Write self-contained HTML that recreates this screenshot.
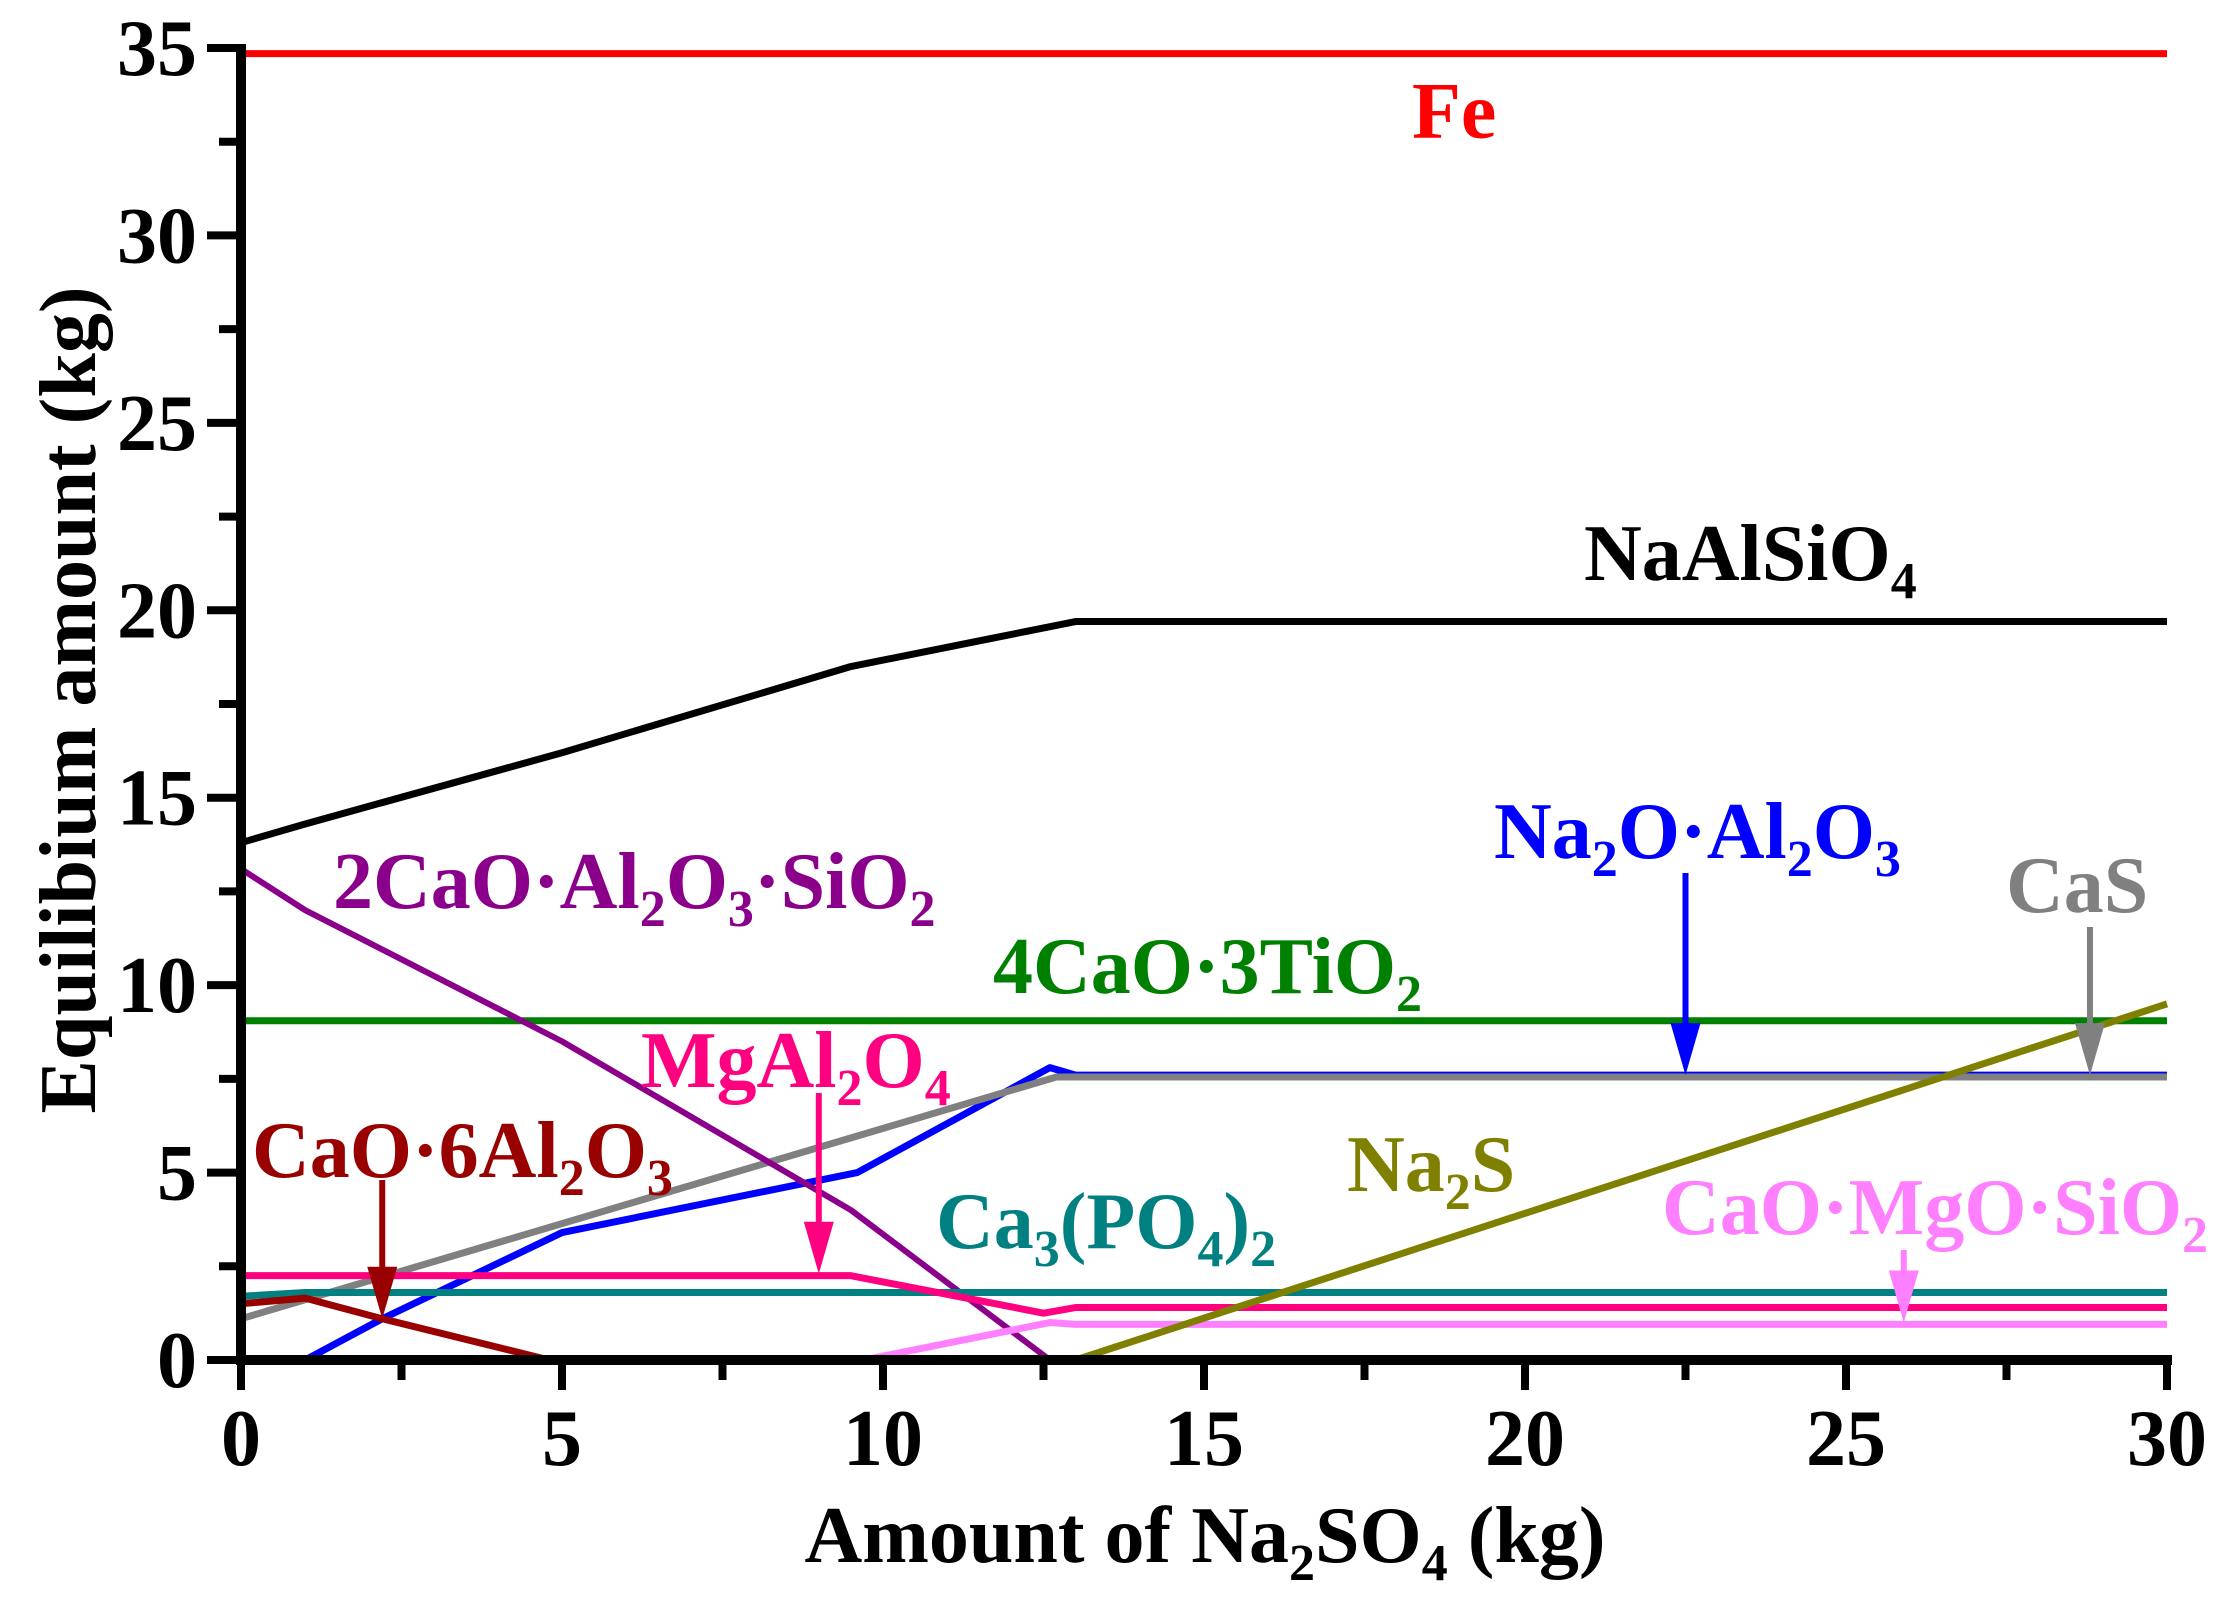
<!DOCTYPE html>
<html><head><meta charset="utf-8"><style>
html,body{margin:0;padding:0;background:#fff;}
svg{display:block;}
text{font-family:"Liberation Serif",serif;font-weight:bold;}
</style></head><body>
<svg id="chart" width="2223" height="1617" viewBox="0 0 2223 1617" xmlns="http://www.w3.org/2000/svg">
<g id="series"></g>
<g id="axes"></g>
<g id="labels"></g>
</svg>
<script>
const xTicks = [0,5,10,15,20,25,30];
const yTicks = [0,5,10,15,20,25,30,35];
const feX = [0,30];            const feY = [34.85,34.85];
const naAlSiO4X = [0,1,5,9.5,13,30]; const naAlSiO4Y = [13.8,14.3,16.2,18.5,19.7,19.7];
const c2asX = [0,1,5,9.5,12.6]; const c2asY = [13.1,12.0,8.5,4.0,0];
const c4t3X = [0,30];          const c4t3Y = [9.05,9.05];
const casX = [0,12.7,30];      const casY = [1.1,7.55,7.55];
const naAlX = [1,2.2,5,9.6,12.6,13,30]; const naAlY = [0,1.1,3.4,5.0,7.8,7.6,7.6];
const mgAlX = [0,9.5,12.5,13,30]; const mgAlY = [2.25,2.25,1.25,1.4,1.4];
const ca3pX = [0,1,30];        const ca3pY = [1.7,1.8,1.8];
const ca6aX = [0,1,2.2,4.8];   const ca6aY = [1.5,1.65,1.1,0];
const cmsX = [9.7,12.6,13,30]; const cmsY = [0,1.0,0.95,0.95];
const na2sX = [13,30];         const na2sY = [0,9.5];

const X0=241, X1=2167, Y0=1360, Y1=48;
const sx = v => X0 + (X1-X0)*v/30;
const sy = v => Y0 - (Y0-Y1)*v/35;
const NS="http://www.w3.org/2000/svg";
const gS=document.getElementById('series'), gA=document.getElementById('axes'), gL=document.getElementById('labels');
function mk(tag, attrs, parent){const e=document.createElementNS(NS,tag);for(const k in attrs)e.setAttribute(k,attrs[k]);parent.appendChild(e);return e;}
function line(xs,ys,color,w,name){
  const p=mk('polyline',{points:xs.map((x,i)=>sx(x)+','+sy(ys[i])).join(' '),fill:'none',stroke:color,'stroke-width':w,'stroke-linejoin':'round'},gS);
  
  
}
line(feX,feY,'#ff0000',7,'fe-line');
line(c4t3X,c4t3Y,'#008000',7,'4cao-3tio2-line');
line(naAlX,naAlY,'#0000ff',7,'na2o-al2o3-line');
line(casX,casY,'#808080',7,'cas-line');
line(naAlSiO4X,naAlSiO4Y,'#000000',7,'naalsio4-line');
line(c2asX,c2asY,'#8b008b',6,'2cao-al2o3-sio2-line');
line(cmsX,cmsY,'#ff80ff',7,'cao-mgo-sio2-line');
line(ca3pX,ca3pY,'#008080',7,'ca3po42-line');
line(mgAlX,mgAlY,'#ff0080',7,'mgal2o4-line');
line(ca6aX,ca6aY,'#990000',7,'cao-6al2o3-line');
line(na2sX,na2sY,'#808000',7,'na2s-line');

// axes
let a=mk('line',{x1:X0,y1:Y1-4,x2:X0,y2:Y0+5,stroke:'#000','stroke-width':10},gA);


a=mk('line',{x1:X0-5,y1:Y0,x2:X1+5,y2:Y0,stroke:'#000','stroke-width':10},gA);


yTicks.forEach(v=>{
  const t=mk('line',{x1:X0-34,y1:sy(v),x2:X0,y2:sy(v),stroke:'#000','stroke-width':8},gA);
  
  
  if(v<35){const m=mk('line',{x1:X0-22,y1:sy(v+2.5),x2:X0,y2:sy(v+2.5),stroke:'#000','stroke-width':8},gA);
  
  }
  const l=mk('text',{x:X0-44,y:sy(v)+27,'text-anchor':'end','font-size':80},gA);l.textContent=v;
  
  
});
xTicks.forEach(v=>{
  const t=mk('line',{x1:sx(v),y1:Y0,x2:sx(v),y2:Y0+30,stroke:'#000','stroke-width':8},gA);
  
  
  if(v<30){const m=mk('line',{x1:sx(v+2.5),y1:Y0,x2:sx(v+2.5),y2:Y0+20,stroke:'#000','stroke-width':8},gA);
  
  }
  const l=mk('text',{x:sx(v),y:1465,'text-anchor':'middle','font-size':80},gA);l.textContent=v;
  
  
});
// arrows
function arrow(xv,yTop,yv,color,name){
  const x=sx(xv), yb=sy(yv);
  const g=mk('g',{},gL);
  
  
  mk('line',{x1:x,y1:yTop,x2:x,y2:yb-45,stroke:color,'stroke-width':6},g);
  mk('polygon',{points:(x-15)+','+(yb-52)+' '+(x+15)+','+(yb-52)+' '+x+','+yb,fill:color},g);
}
arrow(22.5,873,7.6,'#0000ff','na2o-al2o3-arrow');
arrow(28.8,927,7.6,'#808080','cas-arrow');
arrow(2.2,1180,1.1,'#990000','cao-6al2o3-arrow');
arrow(9.0,1093,2.3,'#ff0080','mgal2o4-arrow');
arrow(25.9,1250,1.0,'#ff80ff','cao-mgo-sio2-arrow');
</script>
<svg style="position:absolute;left:0;top:0" width="2223" height="1617" xmlns="http://www.w3.org/2000/svg">
<style>text{font-family:"Liberation Serif",serif;font-weight:bold;font-size:80px;} tspan.s{font-size:52px;}</style>
<text x="1412" y="138" fill="#ff0000">Fe</text>
<text x="1584" y="580" fill="#000">NaAlSiO<tspan class="s" dy="18">4</tspan></text>
<text x="1494" y="858" fill="#0000ff">Na<tspan class="s" dy="18">2</tspan><tspan dy="-18">O·Al</tspan><tspan class="s" dy="18">2</tspan><tspan dy="-18">O</tspan><tspan class="s" dy="18">3</tspan></text>
<text x="2006" y="912" fill="#808080">CaS</text>
<text x="333" y="908" fill="#8b008b">2CaO·Al<tspan class="s" dy="18">2</tspan><tspan dy="-18">O</tspan><tspan class="s" dy="18">3</tspan><tspan dy="-18">·SiO</tspan><tspan class="s" dy="18">2</tspan></text>
<text x="993" y="993" fill="#008000">4CaO·3TiO<tspan class="s" dy="18">2</tspan></text>
<text x="641" y="1087" fill="#ff0080">MgAl<tspan class="s" dy="18">2</tspan><tspan dy="-18">O</tspan><tspan class="s" dy="18">4</tspan></text>
<text x="252" y="1177" fill="#990000">CaO·6Al<tspan class="s" dy="18">2</tspan><tspan dy="-18">O</tspan><tspan class="s" dy="18">3</tspan></text>
<text x="1347" y="1191" fill="#808000">Na<tspan class="s" dy="18">2</tspan><tspan dy="-18">S</tspan></text>
<text x="936" y="1248" fill="#008080">Ca<tspan class="s" dy="18">3</tspan><tspan dy="-18">(PO</tspan><tspan class="s" dy="18">4</tspan><tspan dy="-18">)</tspan><tspan class="s" dy="18">2</tspan></text>
<text x="1662" y="1234" fill="#ff80ff">CaO·MgO·SiO<tspan class="s" dy="18">2</tspan></text>
<text x="1205" y="1562" text-anchor="middle">Amount of Na<tspan class="s" dy="18">2</tspan><tspan dy="-18">SO</tspan><tspan class="s" dy="18">4</tspan><tspan dy="-18"> (kg)</tspan></text>
<text x="0" y="0" text-anchor="middle" transform="translate(95,700) rotate(-90)">Equilibium amount (kg)</text>
</svg>
</body></html>
